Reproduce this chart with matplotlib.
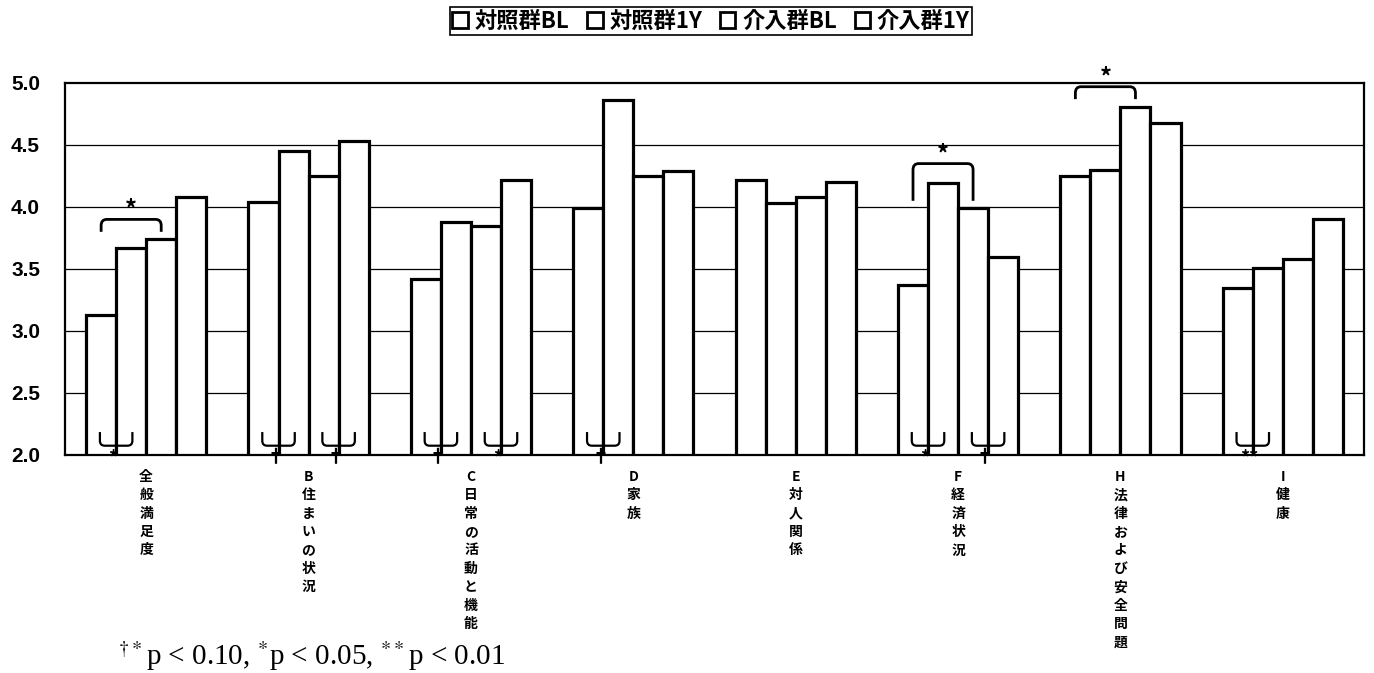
import matplotlib
matplotlib.use("Agg")
import matplotlib.pyplot as plt
from matplotlib.path import Path
from matplotlib.patches import PathPatch, Patch
import numpy as np

plt.rcParams['font.family'] = ['Noto Sans CJK JP', 'DejaVu Sans']
plt.rcParams['mathtext.fontset'] = 'stix'

categories = ["全般満足度", "B住まいの状況", "C日常の活動と機能", "D家族",
              "E対人関係", "F経済状況", "H法律および安全問題", "I健康"]
series_names = ["対照群BL", "対照群1Y", "介入群BL", "介入群1Y"]
ctrl_bl = [3.13, 4.04, 3.42, 3.99, 4.22, 3.37, 4.25, 3.35]
ctrl_1y = [3.67, 4.45, 3.88, 4.86, 4.03, 4.19, 4.30, 3.51]
intv_bl = [3.74, 4.25, 3.85, 4.25, 4.08, 3.99, 4.81, 3.58]
intv_1y = [4.08, 4.53, 4.22, 4.29, 4.20, 3.60, 4.68, 3.90]
yticks = [2.0, 2.5, 3.0, 3.5, 4.0, 4.5, 5.0]

# between-group significance (category index, from series, to series, mark)
top_sig = [(0, 0, 2, "*"), (5, 0, 2, "*"), (6, 0, 2, "*")]
# within-group BL vs 1Y (category index, left series of pair, mark)
bottom_sig = [(0, 0, "*"), (1, 0, "†"), (1, 2, "†"), (2, 0, "†"), (2, 2, "*"),
              (3, 0, "†"), (5, 0, "*"), (5, 2, "†"), (7, 0, "**")]
footnote = r"$^{\dagger *}$p < 0.10, $^{*}$p < 0.05, $^{**}$p < 0.01"

W, H = 1374, 673
fig = plt.figure(figsize=(W / 100, H / 100), dpi=100)
ax = fig.add_axes([65 / W, 1 - 455 / H, (1364 - 65) / W, (455 - 83) / H])

data = [ctrl_bl, ctrl_1y, intv_bl, intv_1y]
n = len(categories)
x = np.arange(n)
bw = 0.185
offsets = [-1.5 * bw, -0.5 * bw, 0.5 * bw, 1.5 * bw]

for yv in yticks[1:-1]:
    ax.axhline(yv, color='black', lw=0.9, zorder=1)

for s, vals in enumerate(data):
    ax.bar(x + offsets[s], np.array(vals) - 2.0, bottom=2.0, width=bw,
           facecolor='white', edgecolor='black', linewidth=2.3, zorder=3,
           label=series_names[s])

ax.set_xlim(-0.5, n - 0.5)
ax.set_ylim(2.0, 5.0)
ax.set_yticks(yticks)
ax.set_yticklabels([f"{v:.1f}" for v in yticks], fontfamily='Liberation Sans',
                   fontweight='bold', fontsize=15)
ax.tick_params(axis='y', length=0, pad=18)
ax.set_xticks([])
for sp in ax.spines.values():
    sp.set_linewidth(1.6)
    sp.set_color('black')

# category labels, stacked vertically
for i, cat in enumerate(categories):
    ax.text(x[i], 1.88, "\n".join(list(cat)), ha='center', va='top',
            fontsize=10, fontweight='bold', linespacing=1.4, clip_on=False)


def bracket_top(x1, x2, ytop, ybot, rx=0.035, ry=0.05):
    verts = [(x1, ybot), (x1, ytop - ry), (x1, ytop), (x1 + rx, ytop),
             (x2 - rx, ytop), (x2, ytop), (x2, ytop - ry), (x2, ybot)]
    codes = [Path.MOVETO, Path.LINETO, Path.CURVE3, Path.CURVE3,
             Path.LINETO, Path.CURVE3, Path.CURVE3, Path.LINETO]
    return Path(verts, codes)


for ci, s1, s2, mark in top_sig:
    vals = [data[k][ci] for k in range(s1, s2 + 1)]
    ytop = max(vals) + 0.16
    ybot = max(data[s1][ci], data[s2][ci]) + 0.06
    x1 = x[ci] + offsets[s1]
    x2 = x[ci] + offsets[s2]
    ax.add_patch(PathPatch(bracket_top(x1, x2, ytop, ybot), fill=False,
                           lw=2.0, edgecolor='black', zorder=5, clip_on=False))
    ax.text((x1 + x2) / 2, ytop - 0.02, mark, ha='center', va='bottom',
            fontsize=17, fontweight='bold', clip_on=False, zorder=6)

for ci, s, mark in bottom_sig:
    edge = x[ci] + offsets[s] + bw / 2
    x1, x2 = edge - 0.1, edge + 0.1
    ytop, ybot = 2.185, 2.075
    rx, ry = 0.03, 0.04
    verts = [(x1, ytop), (x1, ybot + ry), (x1, ybot), (x1 + rx, ybot),
             (x2 - rx, ybot), (x2, ybot), (x2, ybot + ry), (x2, ytop)]
    codes = [Path.MOVETO, Path.LINETO, Path.CURVE3, Path.CURVE3,
             Path.LINETO, Path.CURVE3, Path.CURVE3, Path.LINETO]
    ax.add_patch(PathPatch(Path(verts, codes), fill=False, lw=1.6,
                           edgecolor='black', zorder=5))
    ax.text(edge - 0.02, 1.975, mark, ha='center', va='center', fontsize=13,
            fontweight='bold', clip_on=False, zorder=6)

handles = [Patch(facecolor='white', edgecolor='black', linewidth=2.0)
           for _ in series_names]
leg = fig.legend(handles, series_names, loc='center', ncol=4,
                 bbox_to_anchor=(711 / W, 1 - 21 / H), frameon=True,
                 fancybox=False, edgecolor='black', framealpha=1,
                 prop={'family': ['Noto Sans CJK JP', 'DejaVu Sans'],
                       'weight': 'bold', 'size': 16},
                 handlelength=0.7, handleheight=0.7, handletextpad=0.3,
                 columnspacing=0.8, borderpad=0.12, borderaxespad=0)
leg.get_frame().set_linewidth(1.2)

fig.text(118 / W, 1 - 665 / H, footnote, fontfamily='Liberation Serif',
         fontsize=21, ha='left', va='baseline')

fig.savefig("out.png", dpi=100)
